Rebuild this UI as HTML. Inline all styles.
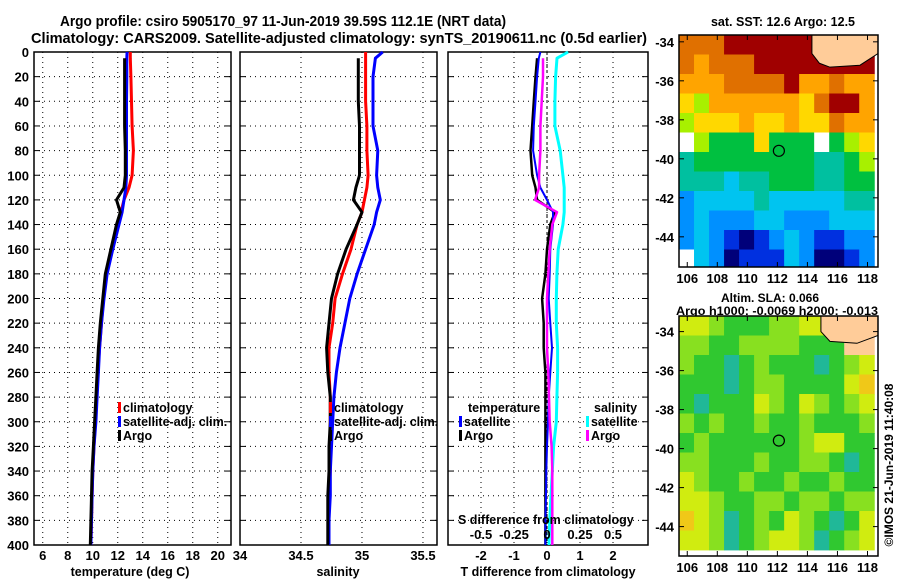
<!DOCTYPE html>
<html><head><meta charset="utf-8"><style>
html,body{margin:0;padding:0;background:#fff;}
svg{display:block;font-family:"Liberation Sans",sans-serif;font-weight:bold;}
text{font-weight:bold;}
</style></head><body>
<svg id="chart" width="900" height="580" viewBox="0 0 900 580" xmlns="http://www.w3.org/2000/svg">
<text x="60" y="26" font-size="15" textLength="446" lengthAdjust="spacingAndGlyphs">Argo profile: csiro 5905170_97 11-Jun-2019 39.59S 112.1E (NRT data)</text>
<text x="31" y="43" font-size="15" textLength="616" lengthAdjust="spacingAndGlyphs">Climatology: CARS2009. Satellite-adjusted climatology: synTS_20190611.nc (0.5d earlier)</text>
<text x="783" y="26" font-size="12.5" text-anchor="middle">sat. SST: 12.6 Argo: 12.5</text>
<text x="770" y="302" font-size="12" text-anchor="middle">Altim. SLA: 0.066</text>
<text x="676" y="315" font-size="12" textLength="202" lengthAdjust="spacingAndGlyphs">Argo h1000: -0.0069 h2000: -0.013</text>
<text transform="translate(893,465) rotate(-90)" font-size="12" font-weight="normal" text-anchor="middle">©IMOS 21-Jun-2019 11:40:08</text>
<g id="plots"></g>
</svg>
<script>
// ---------- data ----------
const depths = [0, 5, 20, 40, 60, 80, 100, 110, 120, 130, 140, 160, 180, 200, 220, 240, 260, 280, 300, 320, 340, 360, 380, 400];
const tempClim = [13.0, 13.0, 13.05, 13.1, 13.15, 13.25, 13.15, 12.9, 12.5, 12.25, 12.0, 11.5, 11.1, 10.85, 10.7, 10.55, 10.4, 10.3, 10.2, 10.1, 10.0, 9.95, 9.9, 9.85];
const tempSat = [12.75, 12.72, 12.72, 12.7, 12.7, 12.7, 12.7, 12.65, 12.5, 12.35, 12.1, 11.6, 11.15, 10.9, 10.7, 10.55, 10.45, 10.35, 10.25, 10.1, 10.0, 9.95, 9.9, 9.85];
const tempArgo = [null, 12.55, 12.55, 12.55, 12.55, 12.6, 12.6, 12.5, 11.9, 12.2, 11.9, 11.45, 11.0, 10.8, 10.6, 10.45, 10.35, 10.25, 10.15, 10.05, 9.95, 9.9, 9.85, 9.8];
const salClim = [35.03, 35.03, 35.03, 35.03, 35.04, 35.04, 35.05, 35.04, 35.02, 35.0, 34.96, 34.91, 34.84, 34.78, 34.76, 34.73, 34.73, 34.74, 34.74, 34.74, 34.74, 34.73, 34.73, 34.73];
const salSat = [35.17, 35.11, 35.09, 35.09, 35.09, 35.13, 35.12, 35.13, 35.15, 35.12, 35.1, 35.03, 34.96, 34.9, 34.86, 34.82, 34.79, 34.77, 34.76, 34.75, 34.74, 34.74, 34.73, 34.73];
const salArgo = [null, 34.97, 34.97, 34.97, 34.98, 34.98, 34.98, 34.95, 34.93, 35.0, 34.96, 34.87, 34.8, 34.75, 34.73, 34.71, 34.72, 34.74, 34.74, 34.73, 34.73, 34.72, 34.72, 34.72];
const dTsat = [-0.2, -0.25, -0.3, -0.35, -0.4, -0.42, -0.3, -0.2, 0.0, 0.18, 0.18, 0.1, 0.08, 0.05, 0.1, 0.15, 0.1, 0.05, 0.03, 0.0, -0.02, -0.03, -0.05, -0.05];
const dTargo = [null, -0.3, -0.35, -0.4, -0.45, -0.5, -0.45, -0.35, -0.3, 0.24, 0.1, 0.0, -0.05, -0.15, -0.1, -0.1, -0.05, -0.05, -0.05, -0.05, -0.05, -0.05, -0.05, -0.05];
const dSsat = [0.16, 0.076, 0.065, 0.06, 0.06, 0.1, 0.12, 0.13, 0.13, 0.13, 0.12, 0.085, 0.075, 0.07, 0.07, 0.08, 0.08, 0.075, 0.07, 0.05, 0.04, 0.03, 0.02, 0.015];
const dSargo = [null, -0.03, -0.03, -0.04, -0.05, -0.05, -0.06, -0.06, -0.09, 0.076, 0.04, 0.02, 0.01, 0.0, 0.0, 0.0, 0.01, 0.015, 0.02, 0.035, 0.04, 0.04, 0.04, 0.04];
const depthTicks = [0,20,40,60,80,100,120,140,160,180,200,220,240,260,280,300,320,340,360,380,400];
const tempTicks = [6,8,10,12,14,16,18,20];
const salTicks = [34,34.5,35,35.5];
const salTickLabels = ["34","34.5","35","35.5"];
const dTTicks = [-2,-1,0,1,2];
const dSTicks = [-0.5,-0.25,0,0.25,0.5];
const dSTickLabels = ["-0.5","-0.25","0","0.25","0.5"];
// SST grid (rows from north, 1deg each; cols lon 105.5.., 1deg). L=land W=nodata
const sstGrid = [
 "999AAAAAAALLL",
 "98999AAAAAAAA",
 "8889999A88988",
 "7688888879AA8",
 "6777877877988",
 "W65557555W567",
 "4555555554456",
 "4443445554455",
 "2333343333344",
 "2322233222333",
 "2321012321122",
 "W320111320012"];
const slaGrid = [
 "yylgggllyyLLL",
 "llggllllgggLL",
 "lggtglgggtgly",
 "gggtgllggggyo",
 "gtgggylgylgly",
 "lglgglgglgggl",
 "glgggggglyygg",
 "llggglggllgtg",
 "ylgglgglgglgg",
 "yylggllgllgll",
 "oyltglgylgtgy",
 "yyltglyyltgly"];
const mapLatTicks = [-34,-36,-38,-40,-42,-44];
const mapLonTicks = [106,108,110,112,114,116,118];
const argoLon = 112.1, argoLat = -39.59;

// ---------- helpers ----------
const NS = "http://www.w3.org/2000/svg";
const root = document.getElementById('plots');
function mk(tag, attrs, parent){ const e=document.createElementNS(NS,tag); for(const k in attrs) e.setAttribute(k,attrs[k]); (parent||root).appendChild(e); return e; }
function txt(x,y,s,size,anchor,parent){ const t=mk('text',{x:x,y:y,'font-size':size,'text-anchor':anchor||'middle'},parent); t.textContent=s; return t; }
const Y0=52, Y1=545;
const yD = d => Y0 + d/400*(Y1-Y0);

function panel(name, x0, x1, vmin, vmax, ticks, labels, showDepth){
  const g = mk('g',{});
  
  
  const sx = v => x0 + (v-vmin)/(vmax-vmin)*(x1-x0);
  depthTicks.forEach(d=>{ if(d>0&&d<400){ const l=mk('line',{x1:x0,x2:x1,y1:yD(d),y2:yD(d),stroke:'#000','stroke-width':1,'stroke-dasharray':'1,4'},g);   }});
  ticks.forEach(v=>{ const x=sx(v); if(x>x0+2&&x<x1-2){ const l=mk('line',{x1:x,x2:x,y1:Y0,y2:Y1,stroke:'#000','stroke-width':1,'stroke-dasharray':'1,4'},g);   }});
  mk('rect',{x:x0,y:Y0,width:x1-x0,height:Y1-Y0,fill:'none',stroke:'#000','stroke-width':1.5},g);
  depthTicks.forEach(d=>{ mk('line',{x1:x0,x2:x0+6,y1:yD(d),y2:yD(d),stroke:'#000'},g); mk('line',{x1:x1-6,x2:x1,y1:yD(d),y2:yD(d),stroke:'#000'},g);
    if(showDepth){ const t=txt(x0-5,yD(d)+5,String(d),13,'end',g);   }});
  if(labels){ ticks.forEach((v,i)=>{ const t=txt(sx(v),560,labels[i],13,'middle',g);   }); }
  return {g,sx};
}
function series(p, vals, color, w, name){
  let d='';
  vals.forEach((v,i)=>{ if(v===null) return; d += (d?'L':'M')+p.sx(v).toFixed(1)+','+yD(depths[i]).toFixed(1); });
  const path = mk('path',{d:d,fill:'none',stroke:color,'stroke-width':w,'stroke-linejoin':'round'},p.g);
  
  
}
function legend(g, x, y, color, label, name){
  const gg = mk('g',{},g);
  
  
  mk('rect',{x:x,y:y-10,width:3,height:11,fill:color},gg);
  txt(x+5,y,label,12.5,'start',gg);
}

const p1 = panel('temperature-panel',34,231,5.3,21.06,tempTicks,tempTicks.map(String),true);
series(p1,tempClim,'#ff0000',3,'temp-climatology-line');
series(p1,tempSat,'#0000ff',3,'temp-satellite-line');
series(p1,tempArgo,'#000000',3,'temp-argo-line');
legend(p1.g,118,412,'#ff0000','climatology','legend-climatology');
legend(p1.g,118,426,'#0000ff','satellite-adj. clim.','legend-satellite');
legend(p1.g,118,440,'#000000','Argo','legend-argo');
txt(130,576,'temperature (deg C)',12.5,'middle',p1.g);

const p2 = panel('salinity-panel',240,437,34.0,35.615,salTicks,salTickLabels,false);
series(p2,salClim,'#ff0000',3,'sal-climatology-line');
series(p2,salSat,'#0000ff',3,'sal-satellite-line');
series(p2,salArgo,'#000000',3,'sal-argo-line');
legend(p2.g,329,412,'#ff0000','climatology','legend-climatology');
legend(p2.g,329,426,'#0000ff','satellite-adj. clim.','legend-satellite');
legend(p2.g,329,440,'#000000','Argo','legend-argo');
txt(338,576,'salinity',12.5,'middle',p2.g);

const p3 = panel('difference-panel',448,648,-3.0,3.06,dTTicks,dTTicks.map(String),false);
mk('line',{x1:p3.sx(0),x2:p3.sx(0),y1:Y0,y2:Y1,stroke:'#000','stroke-width':1,'stroke-dasharray':'3,3'},p3.g);
const p3s = {g:p3.g, sx: v => p3.sx(v*4)};
series(p3s,dSsat,'#00ffff',3,'sdiff-satellite-line');
series(p3,dTargo,'#000000',2.5,'tdiff-argo-line');
series(p3,dTsat,'#0000ff',2,'tdiff-satellite-line');
series(p3s,dSargo,'#ff00ff',2.5,'sdiff-argo-line');
txt(468,412,'temperature',12.5,'start',p3.g);
legend(p3.g,459,426,'#0000ff','satellite','legend-t-satellite');
legend(p3.g,459,440,'#000000','Argo','legend-t-argo');
txt(594,412,'salinity',12.5,'start',p3.g);
legend(p3.g,586,426,'#00ffff','satellite','legend-s-satellite');
legend(p3.g,586,440,'#ff00ff','Argo','legend-s-argo');
txt(458,524,'S difference from climatology',12.5,'start',p3.g);
dSTicks.forEach((v,i)=>{ const t=txt(p3s.sx(v),539,dSTickLabels[i],13,'middle',p3.g);   });
txt(548,576,'T difference from climatology',12.5,'middle',p3.g);

const sstCol = {'0':'#00007a','1':'#0030e0','2':'#0090ff','3':'#00c4f0','4':'#00c0a0','5':'#00c040','6':'#a8f000','7':'#ffd800','8':'#ffa400','9':'#e07000','A':'#a00000','L':'#ffcc99','W':'#ffffff'};
const slaCol = {'g':'#30c830','l':'#88e020','y':'#d0ec10','o':'#f0c818','t':'#20b898','L':'#ffcc99'};
function drawMap(name, x0, x1, y0, y1, latTop, grid, cols, landPath){
  const g = mk('g',{});
  
  
  const lon0=105.45, lon1=118.7;
  const sx = lon => x0 + (lon-lon0)/(lon1-lon0)*(x1-x0);
  const sy = lat => y0 + (latTop-lat)*19.5;
  const cp = mk('clipPath',{id:name+'-clip'},g); mk('rect',{x:x0,y:y0,width:x1-x0,height:y1-y0},cp);
  const cells = mk('g',{'clip-path':'url(#'+name+'-clip)'},g);
  grid.forEach((row,r)=>{ for(let c=0;c<row.length;c++){ const la=latTop-r, lo=lon0+c;
    const rc = mk('rect',{x:sx(lo),y:sy(la),width:sx(lo+1)-sx(lo)+0.5,height:19.9,fill:cols[row[c]]},cells);
      }});
  mk('path',{d:landPath(sx,sy),fill:'#ffcc99',stroke:'#000','stroke-width':1},cells);
  mk('rect',{x:x0,y:y0,width:x1-x0,height:y1-y0,fill:'none',stroke:'#000','stroke-width':1.5},g);
  mapLatTicks.forEach(la=>{ const y=sy(la); mk('line',{x1:x0,x2:x0+5,y1:y,y2:y,stroke:'#000'},g); mk('line',{x1:x1-5,x2:x1,y1:y,y2:y,stroke:'#000'},g);
    const t=txt(x0-5,y+5,String(la),13,'end',g);   });
  mapLonTicks.forEach(lo=>{ const x=sx(lo); mk('line',{x1:x,x2:x,y1:y1-5,y2:y1,stroke:'#000'},g); mk('line',{x1:x,x2:x,y1:y0,y2:y0+5,stroke:'#000'},g);
    const t=txt(x,y1+16,String(lo),13,'middle',g);   });
  const m = mk('circle',{cx:sx(argoLon),cy:sy(argoLat),r:5.5,fill:'none',stroke:'#000','stroke-width':1.2},g);
   
}
drawMap('sst-map',679,878,35,267,-33.65,sstGrid,sstCol,(sx,sy)=>'M'+sx(114.3)+','+sy(-33.6)+' L'+sx(114.3)+','+sy(-34.6)+' L'+sx(114.8)+','+sy(-35.1)+' L'+sx(115.5)+','+sy(-35.3)+' L'+sx(117.5)+','+sy(-35.2)+' L'+sx(118.7)+','+sy(-34.6)+' L'+sx(118.7)+','+sy(-33.6)+' Z');
drawMap('sla-map',679,878,316,556,-33.2,slaGrid,slaCol,(sx,sy)=>'M'+sx(114.9)+','+sy(-33.1)+' L'+sx(114.9)+','+sy(-34.0)+' L'+sx(115.5)+','+sy(-34.5)+' L'+sx(117.3)+','+sy(-34.6)+' L'+sx(118.7)+','+sy(-34.2)+' L'+sx(118.7)+','+sy(-33.1)+' Z');
</script>
</body></html>
